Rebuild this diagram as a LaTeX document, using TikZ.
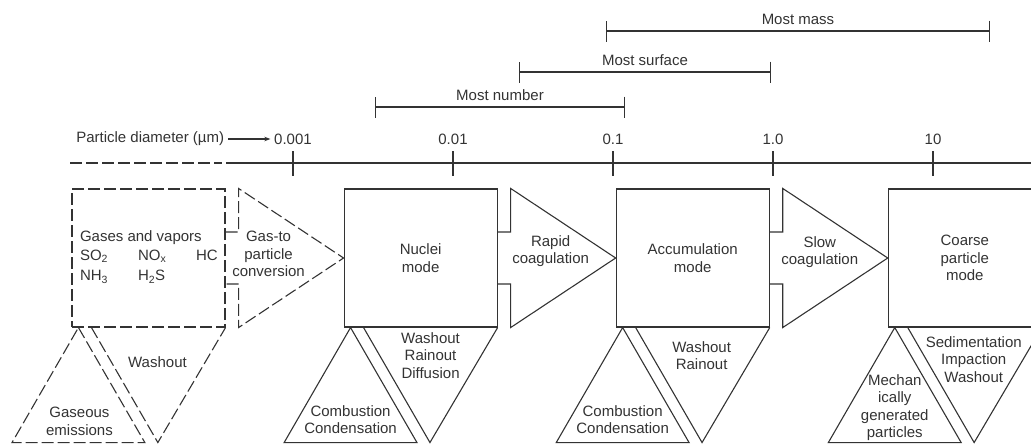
\documentclass[tikz,border=0pt]{standalone}
\usepackage{fontspec}
\setmainfont{Liberation Sans}
\usepackage{tikz}
\usetikzlibrary{positioning, arrows.meta}

\begin{document}
\begin{tikzpicture}[x=1pt, y=-1pt, >={Stealth[length=6pt]}, node distance=118pt,
    color=black!80, line width=1.1pt, font=\fontsize{15}{17.5}\selectfont,
    mode/.style={draw, rectangle, minimum width=153pt, minimum height=138pt, align=center},
    gasline/.style={dash pattern=on 12pt off 4pt},
    lbl/.style={align=center, inner sep=0pt},
    sizerange/.style={{Bar[width=21pt]}-{Bar[width=21pt]}}]

    \useasboundingbox (0,0) rectangle (1031,447);

    % Size ranges
    \coordinate (num-l) at (375,107);
    \coordinate (num-r) at (625,107);
    \coordinate (surf-l) at (519,72);
    \coordinate (surf-r) at (771,72);
    \coordinate (mass-l) at (606,31);
    \coordinate (mass-r) at (990,31);
    \draw[sizerange] (num-l) -- node[above=2pt] {Most number} (num-r);
    \draw[sizerange] (surf-l) -- node[above=2pt] {Most surface} (surf-r);
    \draw[sizerange] (mass-l) -- node[above=2pt] {Most mass} (mass-r);

    % Diameter axis
    \coordinate (ax0) at (70,163);
    \coordinate (ax1) at (222,163);
    \coordinate (ax2) at (226,163);
    \coordinate (ax3) at (1031,163);
    \draw[gasline] (ax0) -- (ax1);
    \draw (ax2) -- (ax3);
    \foreach \i/\v in {0/0.001, 1/0.01, 2/0.1, 3/1.0, 4/10} {
        \draw (293+160*\i,151) -- (293+160*\i,176);
        \node (d\i) at (293+160*\i,139) {\v};
    }
    \node[anchor=east] (pd) at (228,139) {Particle diameter (µm)};
    \draw[->] (pd) -- (pd -| d0.west);

    % Modes
    \node[mode, gasline] (gas) at (148.5,258) {};
    \node[mode, right=of gas] (nuclei) {Nuclei\\mode};
    \node[mode, right=of nuclei] (accum) {Accumulation\\mode};
    \node[mode, right=of accum] (coarse) {Coarse\\particle\\mode};

    \node[lbl, align=left, anchor=west] (gastxt) at ([xshift=8pt,yshift=1pt]gas.west) {Gases and vapors\\[1pt]
        \makebox[58pt][l]{SO\textsubscript{2}}\makebox[58pt][l]{NO\textsubscript{x}}HC\\[3pt]
        \makebox[58pt][l]{NH\textsubscript{3}}H\textsubscript{2}S};

    % Transfers between modes
    \foreach \a/\b/\s in {gas/nuclei/gasline, nuclei/accum/solid, accum/coarse/solid}
        \draw[\s] ([yshift=26pt]\a.east) -- ++(13,0) -- ([xshift=13pt]\a.north east) -- (\b.west)
            -- ([xshift=13pt]\a.south east) -- ([xshift=13pt,yshift=-26pt]\a.east) -- ([yshift=-26pt]\a.east);
    \node[lbl] (gasconv) at ([xshift=43pt,yshift=4pt]gas.east) {Gas-to\\particle\\conversion};
    \node[lbl] (rapid) at ([xshift=53pt,yshift=7pt]nuclei.east) {Rapid\\coagulation};
    \node[lbl] (slow) at ([xshift=50pt,yshift=6pt]accum.east) {Slow\\coagulation};

    % Sources and sinks
    \foreach \b/\s in {gas/gasline, nuclei/solid, accum/solid, coarse/solid} {
        \draw[\s] ([xshift=7pt]\b.south west) -- ++(66.4,115) -- ++(-132.8,0) -- cycle;
        \draw[\s] ([xshift=20pt]\b.south west) -- ++(66.4,115) -- (\b.south east);
    }
    \node[lbl] (gasin) at ([xshift=8pt,yshift=-94pt]gas.south west) {Gaseous\\emissions};
    \node[lbl] (gasout) at ([xshift=86pt,yshift=-35pt]gas.south west) {Washout};
    \node[lbl] (nucin) at ([xshift=7pt,yshift=-92pt]nuclei.south west) {Combustion\\Condensation};
    \node[lbl] (nucout) at ([xshift=87pt,yshift=-28pt]nuclei.south west) {Washout\\Rainout\\Diffusion};
    \node[lbl] (accin) at ([xshift=7pt,yshift=-92pt]accum.south west) {Combustion\\Condensation};
    \node[lbl] (accout) at ([xshift=86pt,yshift=-28pt]accum.south west) {Washout\\Rainout};
    \node[lbl] (coain) at ([xshift=7pt,yshift=-80pt]coarse.south west) {Mechan\\ically\\generated\\particles};
    \node[lbl] (coaout) at ([xshift=86pt,yshift=-32pt]coarse.south west) {Sedimentation\\Impaction\\Washout};

\end{tikzpicture}
\end{document}
